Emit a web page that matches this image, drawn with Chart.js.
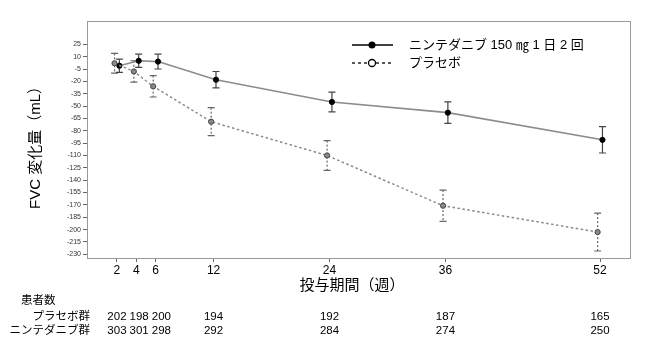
<!DOCTYPE html>
<html>
<head>
<meta charset="utf-8">
<script src="https://cdn.jsdelivr.net/npm/chart.js@4"></script>
<style>
  html, body { margin: 0; padding: 0; background: #fff; }
</style>
</head>
<body>
<canvas id="myChart" width="646" height="354"></canvas>
<script>
/* globals Chart:false */

// Data
const weeks = [2, 4, 6, 12, 24, 36, 52];
const nintedanibMean = [-1, 5, 4, -18, -45, -58, -91];
const nintedanibErr = [8, 8, 9, 10, 12, 13, 16];
const placeboMean = [2, -8, -26, -69, -110, -171, -203];
const placeboErr = [12, 13, 13, 17, 18, 19, 23];
const placeboN = [202, 198, 200, 194, 192, 187, 165];
const nintedanibN = [303, 301, 298, 292, 284, 274, 250];
const yTicks = [25, 10, -5, -20, -35, -50, -65, -80, -95, -110, -125, -140, -155, -170, -185, -200, -215, -230];

const NINTEDANIB_LABEL = "ニンテダニブ 150 ㎎ 1 日 2 回";
const PLACEBO_LABEL = "プラセボ";
const FONT = '"Liberation Sans", "Noto Sans CJK JP", sans-serif';
const DODGE = 0.25;

(() => {
  "use strict";

  Chart.defaults.font.family = FONT;

  // error bars, drawn under the points
  const errorBars = {
    id: "errorBars",
    beforeDatasetsDraw(chart) {
      const { ctx, scales } = chart;
      chart.data.datasets.forEach((ds) => {
        ctx.save();
        ctx.strokeStyle = ds.barColor;
        ctx.lineWidth = 1.2;
        ctx.setLineDash(ds.barDash);
        ds.data.forEach((p, i) => {
          const x = scales.x.getPixelForValue(p.x);
          const y1 = scales.y.getPixelForValue(p.y + ds.err[i]);
          const y2 = scales.y.getPixelForValue(p.y - ds.err[i]);
          ctx.beginPath();
          ctx.moveTo(x, y1);
          ctx.lineTo(x, y2);
          ctx.stroke();
          ctx.setLineDash([]);
          ctx.beginPath();
          ctx.moveTo(x - 3.5, y1);
          ctx.lineTo(x + 3.5, y1);
          ctx.moveTo(x - 3.5, y2);
          ctx.lineTo(x + 3.5, y2);
          ctx.stroke();
          ctx.setLineDash(ds.barDash);
        });
        ctx.restore();
      });
    },
  };

  // one row of counts, centred on the ticks but pushed right so they don't touch
  function drawRow(ctx, scale, counts, y) {
    let prevRight = -Infinity;
    counts.forEach((n, i) => {
      const s = String(n);
      const w = ctx.measureText(s).width;
      let left = scale.getPixelForValue(weeks[i]) - w / 2;
      if (left < prevRight + 3) left = prevRight + 3;
      ctx.fillText(s, left, y);
      prevRight = left + w;
    });
  }

  // frame, legend, titles and patient table
  const extras = {
    id: "extras",
    afterDraw(chart) {
      const { ctx, chartArea: a, scales } = chart;
      ctx.save();
      ctx.strokeStyle = "#999";
      ctx.lineWidth = 1;
      ctx.strokeRect(a.left + 0.5, a.top + 0.5, a.right - a.left, a.bottom - a.top);

      // legend
      ctx.fillStyle = "#000";
      ctx.font = "13px " + FONT;
      ctx.textBaseline = "middle";
      ctx.textAlign = "left";
      ctx.strokeStyle = "#000";
      ctx.lineWidth = 1.3;
      ctx.beginPath();
      ctx.moveTo(352, 45);
      ctx.lineTo(393, 45);
      ctx.stroke();
      ctx.beginPath();
      ctx.arc(372, 45, 3.5, 0, Math.PI * 2);
      ctx.fill();
      ctx.fillText(NINTEDANIB_LABEL, 409, 45);

      ctx.setLineDash([3, 3]);
      ctx.beginPath();
      ctx.moveTo(352, 63);
      ctx.lineTo(393, 63);
      ctx.stroke();
      ctx.setLineDash([]);
      ctx.beginPath();
      ctx.arc(372, 63, 3.5, 0, Math.PI * 2);
      ctx.fillStyle = "#fff";
      ctx.fill();
      ctx.stroke();
      ctx.fillStyle = "#000";
      ctx.fillText(PLACEBO_LABEL, 409, 63);

      // axis titles
      ctx.font = "15px " + FONT;
      ctx.textAlign = "center";
      ctx.fillText("投与期間（週）", 352, 286);
      ctx.save();
      ctx.translate(36, 144);
      ctx.rotate(-Math.PI / 2);
      ctx.fillText("FVC 変化量（mL）", 0, 0);
      ctx.restore();

      // number of patients
      ctx.font = "11.5px " + FONT;
      ctx.textAlign = "left";
      ctx.fillText("患者数", 21, 301);
      ctx.textAlign = "right";
      ctx.fillText("プラセボ群", 90, 317);
      ctx.fillText("ニンテダニブ群", 90, 331);
      ctx.textAlign = "left";
      drawRow(ctx, scales.x, placeboN, 317);
      drawRow(ctx, scales.x, nintedanibN, 331);
      ctx.restore();
    },
  };

  const ctx = document.getElementById("myChart");
  // eslint-disable-next-line no-unused-vars
  const myChart = new Chart(ctx, {
    type: "line",
    data: {
      datasets: [
        {
          label: PLACEBO_LABEL,
          data: weeks.map((w, i) => ({ x: w - DODGE, y: placeboMean[i] })),
          err: placeboErr,
          barColor: "#666",
          barDash: [2, 2],
          borderColor: "#8a8a8a",
          borderWidth: 1.5,
          borderDash: [2.5, 2.5],
          pointRadius: 2.6,
          pointBackgroundColor: "#8a8a8a",
          pointBorderColor: "#444",
          pointBorderWidth: 1,
        },
        {
          label: NINTEDANIB_LABEL,
          data: weeks.map((w, i) => ({ x: w + DODGE, y: nintedanibMean[i] })),
          err: nintedanibErr,
          barColor: "#444",
          barDash: [],
          borderColor: "#8c8c8c",
          borderWidth: 1.6,
          pointRadius: 2.6,
          pointBorderWidth: 1,
          pointBackgroundColor: "#000",
          pointBorderColor: "#000",
        },
      ],
    },
    options: {
      responsive: false,
      animation: false,
      layout: { padding: { top: 21, right: 16, left: 0, bottom: 0 } },
      scales: {
        x: {
          type: "linear",
          min: -1.1,
          max: 55.1,
          afterBuildTicks: (axis) => {
            axis.ticks = weeks.map((v) => ({ value: v }));
          },
          afterFit: (axis) => {
            axis.height = 96;
          },
          ticks: { color: "#000", font: { size: 12 }, padding: 1, maxRotation: 0 },
          grid: { drawOnChartArea: false, tickLength: 4, color: "#666" },
          border: { color: "#999" },
        },
        y: {
          min: -234.5,
          max: 53.3,
          afterBuildTicks: (axis) => {
            axis.ticks = yTicks.map((v) => ({ value: v }));
          },
          afterFit: (axis) => {
            axis.width = 87;
          },
          ticks: { color: "#333", font: { size: 7 }, padding: 2 },
          grid: { drawOnChartArea: false, tickLength: 4, color: "#666" },
          border: { color: "#999" },
        },
      },
      plugins: {
        legend: { display: false },
        tooltip: { enabled: false },
      },
    },
    plugins: [errorBars, extras],
  });
})();
</script>
</body>
</html>
